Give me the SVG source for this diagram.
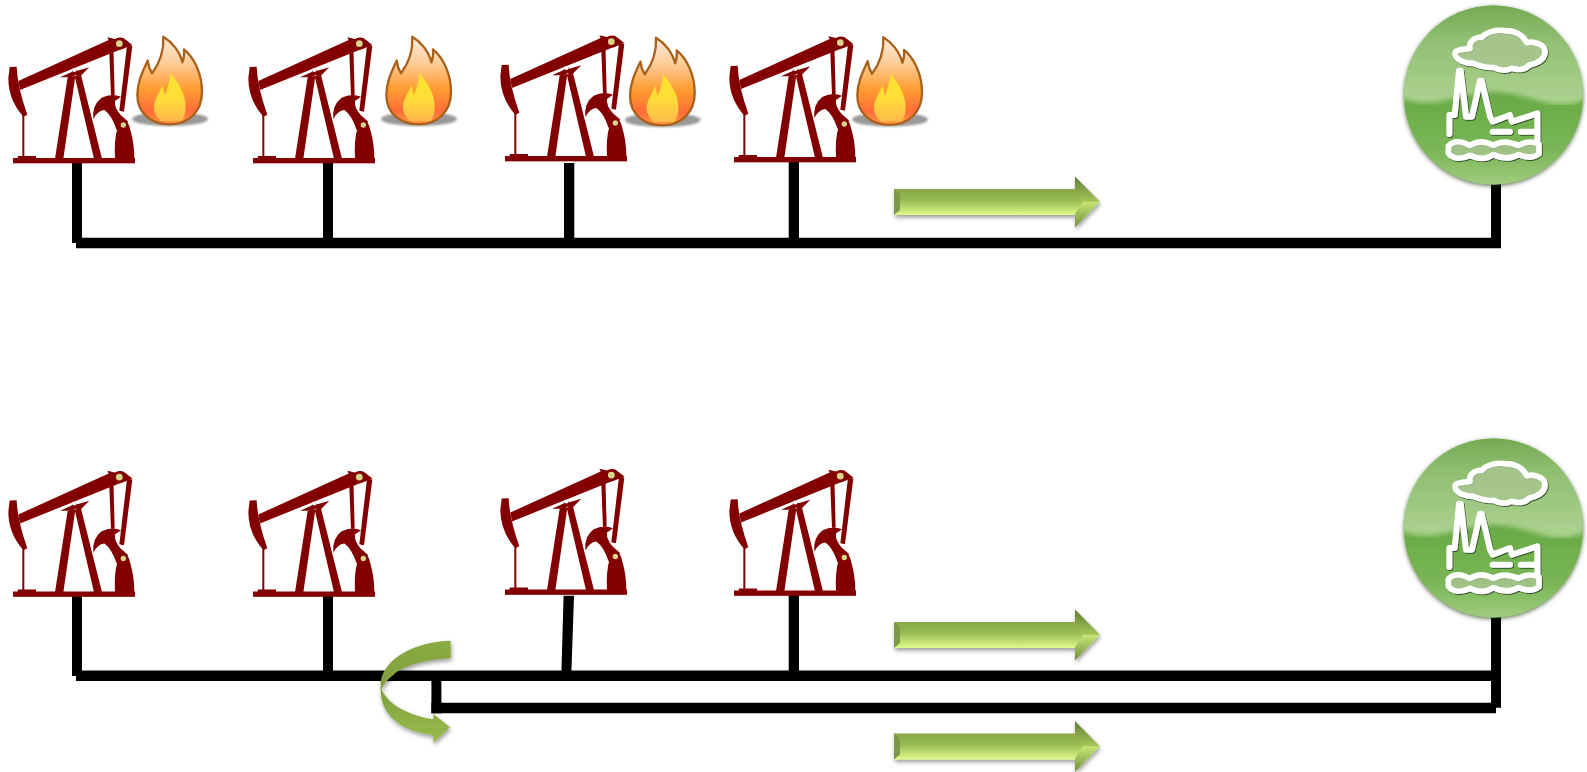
<svg xmlns="http://www.w3.org/2000/svg" width="1587" height="772" viewBox="0 0 1587 772">
<style>
.pipe{fill:#000}
.jack{fill:#830000}
.pin{fill:#d9d58a}
.ico{fill:none;stroke:#fff;stroke-width:18;stroke-linejoin:round;stroke-linecap:round}
.icof{fill:#c4e2aa;fill-opacity:.55;stroke:#fff;stroke-width:17;stroke-linejoin:round;stroke-linecap:round}
</style>
<defs>
<linearGradient id="fl" x1="0" y1="0" x2="0" y2="1"><stop offset="0" stop-color="#fdebdc"/><stop offset=".28" stop-color="#fdcf9e"/><stop offset=".6" stop-color="#ff9c30"/><stop offset=".85" stop-color="#ff6d38"/><stop offset="1" stop-color="#ff9a40"/></linearGradient>
<linearGradient id="fi" x1="0" y1="0" x2="0" y2="1"><stop offset="0" stop-color="#ffe52c"/><stop offset=".5" stop-color="#ffdd38"/><stop offset="1" stop-color="#ffba4a"/></linearGradient>
<linearGradient id="ar" x1="0" y1="0" x2="0" y2="1"><stop offset="0" stop-color="#64823a"/><stop offset=".12" stop-color="#7f9f46"/><stop offset=".45" stop-color="#94b850"/><stop offset=".75" stop-color="#def98a"/><stop offset=".92" stop-color="#a8c95e"/><stop offset="1" stop-color="#7a9a3e"/></linearGradient>
<linearGradient id="at" x1="0" y1="0" x2="0" y2="1"><stop offset="0" stop-color="#5f7d36"/><stop offset="1" stop-color="#a6c659"/></linearGradient>
<linearGradient id="ab" x1="0" y1="0" x2="0" y2="1"><stop offset="0" stop-color="#c9e676"/><stop offset="1" stop-color="#6f8f3c"/></linearGradient>
<linearGradient id="cu" x1="0" y1="0" x2="0" y2="1"><stop offset="0" stop-color="#8aac42"/><stop offset=".45" stop-color="#7f9f3e"/><stop offset="1" stop-color="#98bb4a"/></linearGradient>
<linearGradient id="lo" x1="0" y1="0" x2="0" y2="1"><stop offset="0" stop-color="#67a943"/><stop offset=".6" stop-color="#7ab657"/><stop offset="1" stop-color="#a6cf84"/></linearGradient>
<linearGradient id="hi" x1="0" y1="0" x2="0" y2="1"><stop offset="0" stop-color="#74aa52"/><stop offset=".35" stop-color="#90bf72"/><stop offset="1" stop-color="#aed392"/></linearGradient>
<clipPath id="bc"><circle cx="1493.5" cy="95" r="89.5"/></clipPath>
<filter id="sf" x="-10%" y="-10%" width="120%" height="120%"><feGaussianBlur stdDeviation="2.5"/></filter>
<filter id="bl" x="-30%" y="-100%" width="160%" height="300%"><feGaussianBlur stdDeviation="3.5"/></filter>
<filter id="sh" x="-10%" y="-30%" width="120%" height="170%"><feDropShadow dx="1" dy="2.5" stdDeviation="2" flood-color="#000" flood-opacity=".4"/></filter>
<filter id="bs" x="-10%" y="-10%" width="120%" height="120%"><feDropShadow dx="0" dy="1.5" stdDeviation="2" flood-color="#1d3010" flood-opacity=".7"/></filter>
<filter id="is" x="-10%" y="-10%" width="120%" height="120%"><feDropShadow dx="2.5" dy="3" stdDeviation="2" flood-color="#1f3812" flood-opacity=".85"/></filter>
<g id="pump" transform="translate(0 20) scale(.33333)">
<path class="jack" d="M55,183 L326,60 L322,52 L345,57 Q365,47 378,60 L397,75 L380,82 Q370,87 352,92 L60,210 Z"/>
<path class="jack" d="M29,141 L50,140 Q52,200 82,284 L70,290 Q25,240 25,175 Z"/>
<rect class="jack" x="67" y="285" width="6" height="125"/>
<rect class="jack" x="53" y="408" width="55" height="8"/>
<rect class="jack" x="39" y="414" width="366" height="16"/>
<path class="jack" d="M203,172 L226,168 L190,416 L165,416 Z"/>
<path class="jack" d="M224,168 L243,165 L306,416 L282,416 Z"/>
<path class="jack" d="M180,172 L215,156 L222,140 L232,152 L268,142 L238,172 L227,165 L215,172 Z"/>
<ellipse cx="223" cy="150" rx="7" ry="6" fill="#fff"/>
<path class="jack" d="M327,75 L340,75 L344,226 L333,226 Z"/>
<path class="jack" d="M381,76 L397,78 L372,275 L358,272 Z"/>
<path class="jack" d="M280,298 Q275,255 305,233 Q335,218 363,230 L345,243 Q342,262 362,285 L385,305 L350,330 Q335,285 313,270 Q292,272 280,298 Z"/>
<path class="jack" d="M345,416 Q342,360 352,326 Q358,302 372,298 Q386,305 391,330 Q403,370 403,416 Z"/>
<circle class="pin" cx="358" cy="71" r="10"/>
<circle class="pin" cx="370" cy="315" r="8"/>
</g>
<g id="flame" transform="translate(0 20) scale(.33333)">
<ellipse cx="510" cy="297" rx="114" ry="21" fill="#808080" opacity=".8" filter="url(#bl)"/>
<path d="M510,313 C455,313 412,280 412,225 C412,185 430,150 443,122 C445,140 450,150 456,160 C475,135 492,95 490,50 C515,65 540,95 547,127 C552,115 553,100 552,88 C585,115 606,165 606,215 C606,275 565,313 510,313 Z" fill="url(#fl)" stroke="#a9601a" stroke-width="7" stroke-linejoin="round"/>
<path d="M512,160 C535,190 557,220 557,260 C557,280 552,292 545,303 L482,303 C470,290 460,275 462,258 C464,235 480,215 488,195 C490,205 492,215 494,225 C505,205 510,180 512,160 Z" fill="url(#fi)"/>
</g>
<g id="arrow">
<path d="M894,189 H1075 V176.7 L1099.7,201.7 L1075,227.3 V215 H894 Z" fill="url(#ar)" filter="url(#sh)"/>
<path d="M894,189 L900,194 V210 L894,215 Z" fill="#7b9b42"/>
<path d="M1075,176.7 L1099.7,201.7 L1083,201.7 L1075,190 Z" fill="url(#at)"/>
<path d="M1075,227.3 L1099.7,201.7 L1083,201.7 L1075,214 Z" fill="url(#ab)"/>
</g>
<g id="plant">
<circle cx="1493.5" cy="95" r="89.5" fill="#7db55a" filter="url(#bs)"/>
<g clip-path="url(#bc)">
<rect x="1404" y="5" width="179" height="100" fill="url(#hi)"/>
<path d="M1398,96 C1430,112 1455,94 1490,92 C1530,90 1555,118 1590,96 V190 H1398 Z" fill="url(#lo)" filter="url(#sf)"/>
</g>
<g transform="translate(1390 0) scale(.33333)" filter="url(#is)">
<path class="icof" d="M195,160 C195,148 220,148 240,145 C235,125 255,110 275,112 C290,95 320,88 345,92 C375,92 400,105 410,128 C435,122 465,135 465,155 C465,180 440,190 418,195 C400,215 380,208 365,205 C345,215 325,210 310,202 C290,205 270,198 250,190 C225,190 195,180 195,160 Z"/>
<path class="ico" d="M178,402 V345 H194 L207,212 L212,212 L228,350 H246 L270,242 L275,242 L300,350 L308,365 L360,345 L366,365 L442,340 V425 M308,395 H360 M392,395 H436"/>
<path class="icof" d="M175,438 C195,418 215,425 240,436 C265,420 290,425 310,436 C335,420 360,425 385,436 C405,425 425,422 447,432 L447,462 C425,478 400,470 385,464 C360,478 335,476 310,464 C290,478 265,478 240,466 C215,478 190,478 175,460 Z"/>
</g>
</g>
</defs>

<g id="connectors">
<path class="pipe" d="M72,163 H82 V243 H72 Z"/>
<path class="pipe" d="M76,237.7 H1501 V248.3 H76 Z"/>
<path class="pipe" d="M323,163 H333 V240 H323 Z"/>
<path class="pipe" d="M564,163 H574.3 V240 H564 Z"/>
<path class="pipe" d="M788.7,162 H799 V240 H788.7 Z"/>
<path class="pipe" d="M1491,180 H1501 V248 H1491 Z"/>
<path class="pipe" d="M72,596 H82 V676 H72 Z"/>
<path class="pipe" d="M76,670.5 H1501 V681 H76 Z"/>
<path class="pipe" d="M323,596 H333 V672 H323 Z"/>
<path class="pipe" d="M563.6,595.7 H574 L571.4,672 H561.4 Z"/>
<path class="pipe" d="M788.7,595 H799 V672 H788.7 Z"/>
<path class="pipe" d="M1491,613 H1501 V707.7 H1491 Z"/>
<path class="pipe" d="M431.4,680 H441.4 V713.3 H431.4 Z"/>
<path class="pipe" d="M431.4,702.7 H1496 V713.3 H431.4 Z"/>
</g>

<g id="pump-top-1"><use href="#pump"/></g>
<g id="flame-top-1"><use href="#flame"/></g>
<g id="pump-top-2"><use href="#pump" x="240"/></g>
<g id="flame-top-2"><use href="#flame" x="249"/></g>
<g id="pump-top-3"><use href="#pump" x="492" y="-2"/></g>
<g id="flame-top-3"><use href="#flame" x="492.7" y="1"/></g>
<g id="pump-top-4"><use href="#pump" x="721" y="-1"/></g>
<g id="flame-top-4"><use href="#flame" x="720" y="0.5"/></g>
<g id="plant-top"><use href="#plant"/></g>
<g id="flow-top"><use href="#arrow"/></g>

<g id="pump-bottom-1"><use href="#pump" y="433.5"/></g>
<g id="pump-bottom-2"><use href="#pump" x="240" y="433.5"/></g>
<g id="pump-bottom-3"><use href="#pump" x="492" y="431.5"/></g>
<g id="pump-bottom-4"><use href="#pump" x="721" y="432.5"/></g>
<g id="plant-bottom"><use href="#plant" y="433"/></g>
<g id="flow-bottom-1"><use href="#arrow" y="433"/></g>
<g id="flow-bottom-2"><use href="#arrow" y="544.5"/></g>

<g id="recycle-arrow" filter="url(#sh)">
<path transform="translate(360 620) scale(.33333)" d="M272,62 V115 C190,118 125,140 100,165 C85,175 72,190 65,207 C80,250 140,285 220,298 V282 L270,322 L220,368 V345 C130,335 65,290 62,215 V185 C75,110 170,65 272,62 Z" fill="url(#cu)"/>
</g>
</svg>
